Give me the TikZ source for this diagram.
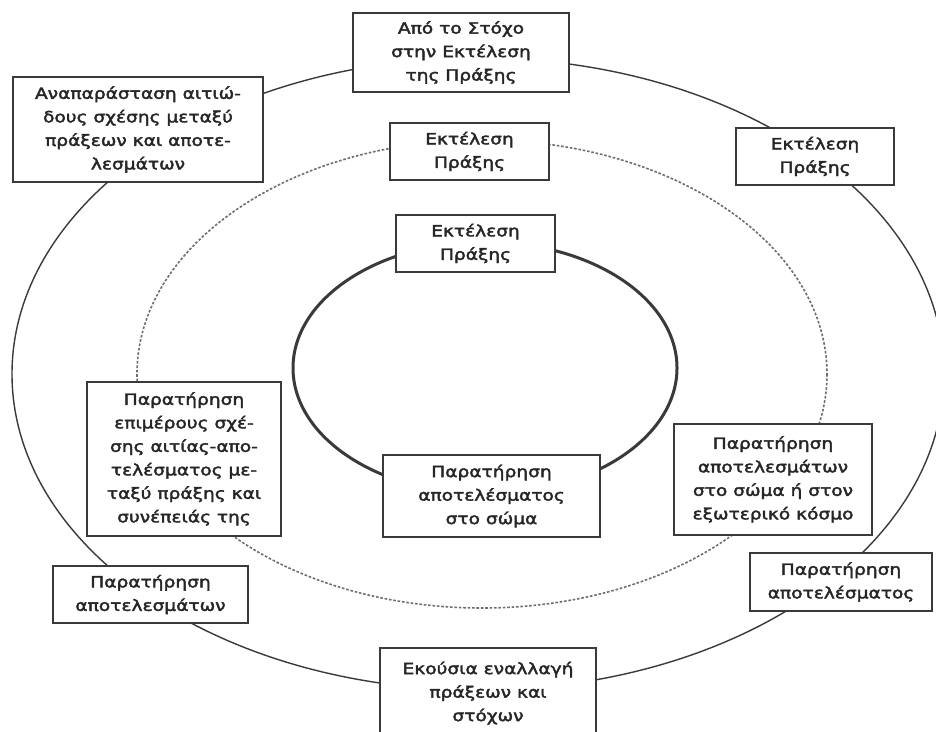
\documentclass[tikz,border=0pt]{standalone}
\usepackage{fontspec}
\setmainfont{DejaVu Sans}[FakeStretch=1.2,FakeBold=2.5]
\definecolor{linec}{HTML}{3A3A3A}
\definecolor{textc}{HTML}{262626}
\definecolor{dashc}{HTML}{6E6E6E}
\begin{document}
\begin{tikzpicture}[x=1pt,y=-1pt,
  box/.style={draw=linec, line width=1.3pt, fill=white, align=center, inner sep=0pt,
    text=textc, font=\fontsize{15.5}{23.5}\selectfont},
  outerring/.style={draw=linec, line width=1.4pt},
  midring/.style={draw=dashc, line width=1.6pt, dash pattern=on 2.6pt off 1.8pt},
  innerring/.style={draw=linec, line width=3pt}]
\useasboundingbox (0,0) rectangle (936,731);
\fill[white] (0,0) rectangle (936,731);
\begin{scope}
\clip (0,0) rectangle (936,731);
\path[outerring] (478,374) ellipse [x radius=466, y radius=316];
\path[midring] (482,374) ellipse [x radius=345, y radius=234];
\path[innerring] (485,368) ellipse [x radius=192, y radius=126];

\node[box, minimum width=216pt, minimum height=79pt] (goal) at (461,52.5) {Από το Στόχο\\στην Εκτέλεση\\της Πράξης};
\node[box, minimum width=250pt, minimum height=105pt] (repr) at (138,129.5) {Αναπαράσταση αιτιώ-\\δους σχέσης μεταξύ\\πράξεων και αποτε-\\λεσμάτων};
\node[box, minimum width=159pt, minimum height=57pt] (midexec) at (469.5,151.5) {Εκτέλεση\\Πράξης};
\node[box, minimum width=158pt, minimum height=57pt] (outexec) at (815,156.5) {Εκτέλεση\\Πράξης};
\node[box, minimum width=159pt, minimum height=57pt] (inexec) at (475.5,243.5) {Εκτέλεση\\Πράξης};
\node[box, minimum width=217pt, minimum height=82pt] (inobs) at (491.5,496) {Παρατήρηση\\αποτελέσματος\\στο σώμα};
\node[box, minimum width=194pt, minimum height=154pt] (midobsl) at (184,459) {Παρατήρηση\\επιμέρους σχέ-\\σης αιτίας-απο-\\τελέσματος με-\\ταξύ πράξης και\\συνέπειάς της};
\node[box, minimum width=198pt, minimum height=111pt] (midobsr) at (773,479.5) {Παρατήρηση\\αποτελεσμάτων\\στο σώμα ή στον\\εξωτερικό κόσμο};
\node[box, minimum width=195pt, minimum height=57pt] (outobsl) at (150.5,594.5) {Παρατήρηση\\αποτελεσμάτων};
\node[box, minimum width=182pt, minimum height=58pt] (outobsr) at (841,582) {Παρατήρηση\\αποτελέσματος};
\node[box, minimum width=216pt, minimum height=90pt] (swap) at (488,693) {Εκούσια εναλλαγή\\πράξεων και\\στόχων};
\end{scope}
\end{tikzpicture}
\end{document}
